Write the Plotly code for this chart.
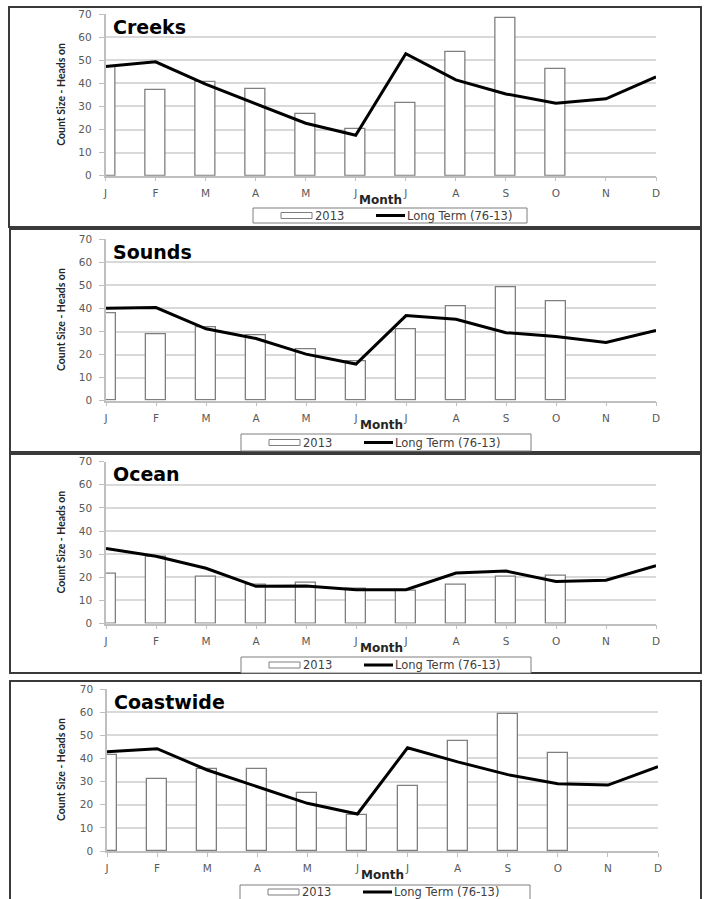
import plotly.graph_objects as go

# ---------------- data ----------------
MONTHS = [1, 2, 3, 4, 5, 6, 7, 8, 9, 10, 11, 12]
MONTH_LABELS = ["J", "F", "M", "A", "M", "J", "J", "A", "S", "O", "N", "D"]
Y_TICKS = [0, 10, 20, 30, 40, 50, 60, 70]

PANEL_NAMES = ["Creeks", "Sounds", "Ocean", "Coastwide"]

creeks_2013 = [47, 36.9, 40.4, 37.5, 26.6, 20.2, 31.4, 53.7, 68.4, 46.4, None, None]
creeks_lt = [47.3, 49.3, 39.6, 31.0, 22.7, 17.5, 52.8, 41.5, 35.4, 31.4, 33.3, 42.8]

sounds_2013 = [37.9, 28.8, 31.7, 28.5, 22.4, 17.2, 31.0, 40.8, 49.0, 43.1, None, None]
sounds_lt = [40.1, 40.4, 31.2, 27.0, 20.2, 15.9, 36.9, 35.3, 29.5, 27.8, 25.3, 30.5]

ocean_2013 = [21.7, 28.8, 20.2, 16.9, 17.8, 15.0, 14.0, 16.9, 20.2, 20.5, None, None]
ocean_lt = [32.5, 29.1, 23.9, 16.1, 16.2, 14.6, 14.6, 21.8, 22.7, 18.2, 18.7, 25.0]

coast_2013 = [41.3, 31.3, 35.4, 35.4, 24.9, 15.7, 28.2, 47.5, 59.2, 42.5, None, None]
coast_lt = [42.9, 44.2, 35.0, 27.8, 20.6, 16.0, 44.6, 38.5, 33.0, 29.1, 28.5, 36.4]

SERIES_2013 = [creeks_2013, sounds_2013, ocean_2013, coast_2013]
SERIES_LT = [creeks_lt, sounds_lt, ocean_lt, coast_lt]
LEGEND_NAMES = ["2013", "Long Term (76-13)"]

# ---------------- layout (pixel geometry) ----------------
W, H = 706, 899
def px(x):
    return x / W
def py(y):
    return 1 - y / H

# plot area: left, right, top, bottom (pixels)
PLOT_AREAS = [
    (105.5, 656, 14, 175.7),
    (106, 656, 239.3, 400.7),
    (106, 656, 461.7, 623.5),
    (107, 658, 689, 851),
]
# panel frame boxes: x0, y0, x1, y1
FRAMES = [
    (9, 7, 701, 227),
    (10, 229, 701, 452),
    (10, 454, 701, 673),
    (10, 681, 701, 910),
]
# legend boxes: x0, y0, x1, y1
LEG_BOXES = [
    (253, 208, 527, 223),
    (241, 434, 531, 451),
    (241, 657, 531, 673),
    (240, 885, 530, 905),
]

TICK_FONT = dict(family="DejaVu Sans", size=10.5, color="#595959")
GRID = "#d9d9d9"
AXIS = "#bfbfbf"

fig = go.Figure()
shapes = []
annotations = []

for i in range(4):
    n = i + 1
    xa = "x" if n == 1 else f"x{n}"
    ya = "y" if n == 1 else f"y{n}"
    l, r, t, b = PLOT_AREAS[i]

    fig.add_trace(go.Bar(
        x=MONTHS, y=SERIES_2013[i], width=0.4, name=LEGEND_NAMES[0],
        marker=dict(color="white", line=dict(color="#7f7f7f", width=1.3)),
        xaxis=xa, yaxis=ya, showlegend=False,
    ))
    fig.add_trace(go.Scatter(
        x=MONTHS, y=SERIES_LT[i], mode="lines", name=LEGEND_NAMES[1],
        line=dict(color="black", width=3), cliponaxis=False,
        xaxis=xa, yaxis=ya, showlegend=False,
    ))

    xkey = "xaxis" if n == 1 else f"xaxis{n}"
    ykey = "yaxis" if n == 1 else f"yaxis{n}"
    fig.layout[xkey] = dict(
        domain=[px(l), px(r)], anchor=ya, range=[1, 12],
        tickmode="array", tickvals=MONTHS, ticktext=MONTH_LABELS,
        ticks="outside", ticklen=4, tickcolor=AXIS, tickwidth=1,
        showline=True, linecolor=AXIS, linewidth=1.5,
        showgrid=False, zeroline=False, tickfont=TICK_FONT,
        ticklabelstandoff=3, automargin=False, fixedrange=True,
    )
    fig.layout[ykey] = dict(
        domain=[py(b), py(t)], anchor=xa, range=[0, 70],
        tickmode="array", tickvals=Y_TICKS,
        ticks="outside", ticklen=5, tickcolor=AXIS, tickwidth=1,
        showline=True, linecolor=AXIS, linewidth=1.5,
        showgrid=True, gridcolor=GRID, gridwidth=2, zeroline=False,
        tickfont=TICK_FONT, ticklabelstandoff=5, automargin=False, fixedrange=True,
    )

    # panel frame
    fx0, fy0, fx1, fy1 = FRAMES[i]
    shapes.append(dict(type="rect", xref="paper", yref="paper",
                       x0=px(fx0), x1=px(fx1), y0=py(fy1), y1=py(fy0),
                       line=dict(color="#3a3a3a", width=2), layer="below"))

    # panel title
    annotations.append(dict(text=f"<b>{PANEL_NAMES[i]}</b>", xref="paper", yref="paper",
                            x=px(l + 5), y=py(t + 12.5), xanchor="left", yanchor="middle",
                            showarrow=False, font=dict(family="DejaVu Sans", size=19, color="black")))
    # y title
    annotations.append(dict(text="<b>Count Size - Heads on</b>", xref="paper", yref="paper",
                            x=px(61), y=py((t + b) / 2), xanchor="center", yanchor="middle",
                            textangle=-90, showarrow=False,
                            font=dict(family="Lato", size=10.5, color="#262626")))
    # x title
    annotations.append(dict(text="<b>Month</b>", xref="paper", yref="paper",
                            x=px((l + r) / 2), y=py(b + 24), xanchor="center", yanchor="middle",
                            showarrow=False, font=dict(family="DejaVu Sans", size=12, color="#262626")))

    # legend
    lx0, ly0, lx1, ly1 = LEG_BOXES[i]
    cy = (ly0 + ly1) / 2 if i < 3 else ly0 + 7
    shapes.append(dict(type="rect", xref="paper", yref="paper",
                       x0=px(lx0), x1=px(lx1), y0=py(ly1), y1=py(ly0),
                       line=dict(color="#7f7f7f", width=1), fillcolor="white"))
    shapes.append(dict(type="rect", xref="paper", yref="paper",
                       x0=px(lx0 + 28), x1=px(lx0 + 59), y0=py(cy + 3), y1=py(cy - 3),
                       line=dict(color="#7f7f7f", width=1), fillcolor="white"))
    annotations.append(dict(text=LEGEND_NAMES[0], xref="paper", yref="paper",
                            x=px(lx0 + 60), y=py(cy), xanchor="left", yanchor="middle",
                            showarrow=False, font=dict(family="DejaVu Sans", size=11.5, color="#404040")))
    shapes.append(dict(type="line", xref="paper", yref="paper",
                       x0=px(lx0 + 123), x1=px(lx0 + 152), y0=py(cy), y1=py(cy),
                       line=dict(color="black", width=3)))
    annotations.append(dict(text=LEGEND_NAMES[1], xref="paper", yref="paper",
                            x=px(lx0 + 152), y=py(cy), xanchor="left", yanchor="middle",
                            showarrow=False, font=dict(family="DejaVu Sans", size=11.5, color="#404040")))

fig.update_layout(
    width=W, height=H, margin=dict(l=0, r=0, t=0, b=0),
    paper_bgcolor="white", plot_bgcolor="white",
    showlegend=False, bargap=0, shapes=shapes, annotations=annotations,
)

fig.write_html(
    "out.html",
    config={"displayModeBar": False},
    post_script="document.body.style.margin='0px';document.body.style.overflow='hidden';",
)
